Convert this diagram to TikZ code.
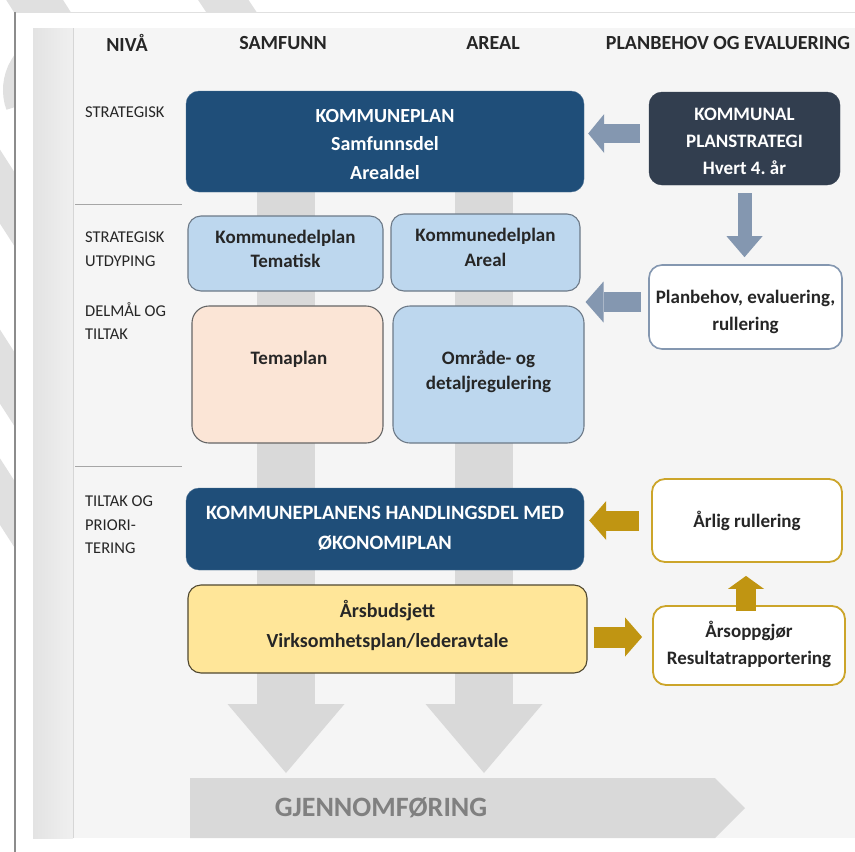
\documentclass[tikz,border=0pt]{standalone}
\usepackage{fontspec}
\setmainfont{Carlito}
\frenchspacing
\usetikzlibrary{arrows.meta,calc}
\definecolor{dblue}{HTML}{1F4E79}
\definecolor{slate}{HTML}{323E4F}
\definecolor{lblue}{HTML}{BDD7EE}
\definecolor{lblueline}{HTML}{6D7A88}
\definecolor{peach}{HTML}{FBE5D6}
\definecolor{lyellow}{HTML}{FFE699}
\definecolor{gold}{HTML}{C09512}
\definecolor{goldline}{HTML}{CCA52A}
\definecolor{bgray}{HTML}{8497B0}
\definecolor{band}{HTML}{D9D9D9}
\definecolor{panel}{HTML}{F5F5F5}
\definecolor{stripe}{HTML}{E0E0E0}
\begin{document}
\begin{tikzpicture}[x=1pt,y=-1pt,
  headtxt/.style={font=\fontsize{20}{24}\selectfont\bfseries, text=black!85, inner sep=0pt},
  lvltxt/.style={font=\fontsize{16.5}{23.5}\selectfont, text=black!85, align=left, anchor=north west, inner sep=0pt},
  basebox/.style={rounded corners=13pt, inner sep=0pt},
  txt/.style={align=center, inner sep=0pt, font=\fontsize{19}{27}\selectfont\bfseries, text=black!85},
  wtxt/.style={txt, text=white},
  darkbox/.style={basebox, fill=dblue, draw=dblue!80!white},
  slatebox/.style={basebox, fill=slate, draw=slate},
  bluebox/.style={basebox, fill=lblue, draw=lblueline, line width=1.1pt},
  peachbox/.style={basebox, fill=peach, draw=black!60, line width=1.1pt},
  yellowbox/.style={basebox, fill=lyellow, draw=black!55!lyellow!70!black, line width=1.1pt},
  planbox/.style={basebox, fill=white, draw=bgray, line width=1.6pt},
  goldbox/.style={basebox, fill=white, draw=goldline, line width=1.8pt},
  bluearr/.style={draw=bgray, line width=#1, -{Triangle[length=16pt,width=39pt,line width=0pt]}},
  goldarr/.style={draw=gold, line width=#1, -{Triangle[length=17pt,width=39pt,line width=0pt]}},
  grayarr/.style={draw=band, line width=58pt, -{Triangle[length=69pt,width=117pt,line width=0pt]}},
]
\useasboundingbox (0,0) rectangle (855,852);
\fill[white] (0,0) rectangle (855,852);
% watermark stripes outside the panel
\begin{scope}
\clip (0,0) -| (855,12) -| (15,852) -| (0,0) -- cycle;
\draw[stripe, line width=48pt] (22,-20) -- (60,40);
\draw[stripe, line width=42pt] (210,-20) -- (250,40);
\draw[stripe, line width=18pt] (62,40) arc[start angle=-90, end angle=-200, radius=50];
\draw[stripe, line width=40pt] (-30,140) -- (60,280);
\draw[stripe, line width=40pt] (-30,320) -- (60,460);
\draw[stripe, line width=36pt] (-30,445) -- (60,585);
\end{scope}
% panel
\fill[white] (15,12) rectangle (855,852);
\draw[black!12, line width=1pt] (15,12) -- (855,12);
\draw[black!45, line width=1.2pt] (15,12) -- (15,852);
\shade[left color=black!11, right color=black!6] (33,28) rectangle (73,838);
\fill[panel] (73,28) rectangle (855,838);
\draw[black!16, line width=1pt] (73,28) -- (73,838);
\draw[black!35, line width=0.8pt] (75,204) -- (182,204);
\draw[black!35, line width=0.8pt] (75,466) -- (182,466);
% headers
\node[headtxt] (hniva) at (127,43) {NIVÅ};
\node[headtxt] (hsamf) at (283,43) {SAMFUNN};
\node[headtxt] (hareal) at (493,43) {AREAL};
\node[headtxt] (hplan) at (728,43) {PLANBEHOV OG EVALUERING};
% level labels
\node[lvltxt] (l1) at (85,107) {STRATEGISK};
\node[lvltxt] (l2) at (85,232) {STRATEGISK\\UTDYPING};
\node[lvltxt] (l3) at (85,302) {DELMÅL OG\\TILTAK};
\node[lvltxt] (l4) at (85,496) {TILTAK OG\\PRIORI-\\TERING};
% big gray arrows and implementation band
\coordinate (g1s) at (286,150);
\coordinate (g1e) at (286,773);
\coordinate (g2s) at (484,150);
\coordinate (g2e) at (484,773);
\draw[grayarr] (g1s) -- (g1e);
\draw[grayarr] (g2s) -- (g2e);
\fill[band] (190,778) -- (715,778) -- (745,808) -- (715,838) -- (190,838) -- cycle;
\node[font=\fontsize{28}{30}\selectfont\bfseries, text=black!50, inner sep=0pt] (gj) at (381,808) {GJENNOMFØRING};
% boxes
\node[darkbox, minimum width=398pt, minimum height=101pt] (kp) at (385,141.5) {};
\node[wtxt, font=\fontsize{20}{28.5}\selectfont\bfseries] (kp-t) at ($(kp)+(0,3)$) {KOMMUNEPLAN\\Samfunnsdel\\Arealdel};
\node[slatebox, minimum width=191pt, minimum height=93pt] (ps) at (744.5,138.5) {};
\node[wtxt] (ps-t) at ($(ps)+(0,3)$) {KOMMUNAL\\PLANSTRATEGI\\Hvert 4. år};
\node[planbox, minimum width=193pt, minimum height=84pt] (pb) at (745.5,307) {};
\node[txt] (pb-t) at ($(pb)+(0,5)$) {Planbehov, evaluering,\\rullering};
\node[bluebox, minimum width=195pt, minimum height=75pt] (kdt) at (285.5,253.5) {};
\node[txt, font=\fontsize{19}{24}\selectfont\bfseries] (kdt-t) at ($(kdt)+(0,-5)$) {Kommunedelplan\\Tematisk};
\node[bluebox, minimum width=189pt, minimum height=77pt] (kda) at (485.5,252.5) {};
\node[txt, font=\fontsize{19}{25}\selectfont\bfseries] (kda-t) at ($(kda)+(0,-5)$) {Kommunedelplan\\Areal};
\node[peachbox, minimum width=191pt, minimum height=137pt, rounded corners=17pt] (tp) at (287.5,374.5) {};
\node[txt] (tp-t) at (289,359) {Temaplan};
\node[bluebox, minimum width=191pt, minimum height=137pt, rounded corners=17pt] (od) at (488.5,374.5) {};
\node[txt, font=\fontsize{19}{25}\selectfont\bfseries] (od-t) at ($(od)+(0,-3)$) {Område- og\\detaljregulering};
\node[darkbox, minimum width=398pt, minimum height=82pt] (hd) at (385,529) {};
\node[wtxt, font=\fontsize{20.4}{30}\selectfont\bfseries] (hd-t) at ($(hd)+(0,-1)$) {KOMMUNEPLANENS HANDLINGSDEL MED\\ØKONOMIPLAN};
\node[yellowbox, minimum width=399pt, minimum height=88pt] (ab) at (387.5,629) {};
\node[txt, font=\fontsize{20}{30}\selectfont\bfseries] (ab-t) at ($(ab)+(0,-3.5)$) {Årsbudsjett\\Virksomhetsplan/lederavtale};
\node[goldbox, minimum width=190pt, minimum height=83pt] (ar) at (747,520.5) {};
\node[txt] (ar-t) at ($(ar)+(0,0)$) {Årlig rullering};
\node[goldbox, minimum width=192pt, minimum height=79pt] (ao) at (749,645.5) {};
\node[txt] (ao-t) at ($(ao)+(0,-1)$) {Årsoppgjør\\Resultatrapportering};
% connectors
\draw[bluearr=19pt] ($(ps.west)+(-9,-5)$) coordinate (a1) -- ($(a1 -| kp.east)+(4,0)$);
\draw[bluearr=14pt, -{Triangle[length=21pt,width=36pt,line width=0pt]}] ($(ps.south)+(0,8)$) coordinate (a2) -- ($(a2 |- pb.north)+(0,-7)$);
\draw[bluearr=20pt, -{Triangle[length=18pt,width=41pt,line width=0pt]}] ($(pb.west)+(-7,-5)$) coordinate (a3) -- ($(a3 -| od.east)+(1,0)$);
\draw[goldarr=20pt] ($(ar.west)+(-12,0)$) coordinate (a4) -- ($(a4 -| hd.east)+(5,0)$);
\draw[goldarr=21pt] ($(ab.east)+(6,8)$) coordinate (a5) -- ($(a5 -| ao.west)+(-10,0)$);
\draw[goldarr=20pt, -{Triangle[length=13pt,width=36pt,line width=0pt]}] ($(ao.north)+(-3,6)$) coordinate (a6) -- ($(a6 |- ar.south)+(0,13)$);
\end{tikzpicture}
\end{document}
